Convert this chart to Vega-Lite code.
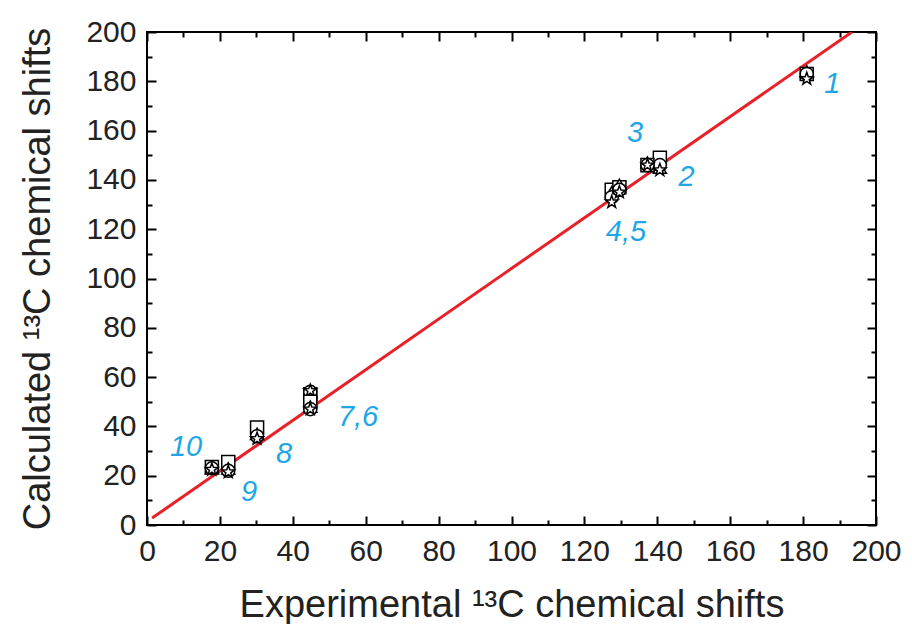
{
  "$schema": "https://vega.github.io/schema/vega-lite/v6.json",
  "width": 729,
  "height": 493,
  "autosize": "none",
  "padding": {"left": 147, "top": 32, "right": 36, "bottom": 99},
  "background": "white",
  "config": {
    "view": {"stroke": "black", "strokeWidth": 2},
    "font": "Liberation Sans",
    "axis": {"grid": false, "domain": false, "tickColor": "black", "tickWidth": 2, "labelColor": "#222", "titleColor": "#222", "labelFont": "Liberation Sans", "titleFont": "Liberation Sans", "titleFontWeight": "normal", "labelFontSize": 30, "titleFontSize": 38, "labelOverlap": false, "labelFlush": false}
  },
  "datasets": {
    "pts": [
      {"carbon": 1, "exp": 181, "method": "A", "calc": 183},
      {"carbon": 1, "exp": 181, "method": "B", "calc": 184},
      {"carbon": 1, "exp": 181, "method": "C", "calc": 183},
      {"carbon": 1, "exp": 181, "method": "D", "calc": 181},
      {"carbon": 2, "exp": 140.7, "method": "A", "calc": 149},
      {"carbon": 2, "exp": 140.7, "method": "B", "calc": 145},
      {"carbon": 2, "exp": 140.7, "method": "C", "calc": 146},
      {"carbon": 2, "exp": 140.7, "method": "D", "calc": 144},
      {"carbon": 3, "exp": 137.3, "method": "A", "calc": 146},
      {"carbon": 3, "exp": 137.3, "method": "B", "calc": 147},
      {"carbon": 3, "exp": 137.3, "method": "C", "calc": 146},
      {"carbon": 3, "exp": 137.3, "method": "D", "calc": 146},
      {"carbon": 4, "exp": 127.5, "method": "A", "calc": 136},
      {"carbon": 4, "exp": 127.5, "method": "B", "calc": 135},
      {"carbon": 4, "exp": 127.5, "method": "C", "calc": 133},
      {"carbon": 4, "exp": 127.5, "method": "D", "calc": 131},
      {"carbon": 5, "exp": 129.6, "method": "A", "calc": 137},
      {"carbon": 5, "exp": 129.6, "method": "B", "calc": 138},
      {"carbon": 5, "exp": 129.6, "method": "C", "calc": 136},
      {"carbon": 5, "exp": 129.6, "method": "D", "calc": 135},
      {"carbon": 6, "exp": 44.8, "method": "A", "calc": 53},
      {"carbon": 6, "exp": 44.8, "method": "B", "calc": 54},
      {"carbon": 6, "exp": 44.8, "method": "C", "calc": 54},
      {"carbon": 6, "exp": 44.8, "method": "D", "calc": 54.5},
      {"carbon": 7, "exp": 44.8, "method": "A", "calc": 50},
      {"carbon": 7, "exp": 44.8, "method": "B", "calc": 48},
      {"carbon": 7, "exp": 44.8, "method": "C", "calc": 47},
      {"carbon": 7, "exp": 44.8, "method": "D", "calc": 47},
      {"carbon": 8, "exp": 30.2, "method": "A", "calc": 39.5},
      {"carbon": 8, "exp": 30.2, "method": "B", "calc": 37},
      {"carbon": 8, "exp": 30.2, "method": "C", "calc": 36},
      {"carbon": 8, "exp": 30.2, "method": "D", "calc": 35},
      {"carbon": 9, "exp": 22.3, "method": "A", "calc": 25.5},
      {"carbon": 9, "exp": 22.3, "method": "B", "calc": 23},
      {"carbon": 9, "exp": 22.3, "method": "C", "calc": 22},
      {"carbon": 9, "exp": 22.3, "method": "D", "calc": 21.5},
      {"carbon": 10, "exp": 17.8, "method": "A", "calc": 23.5},
      {"carbon": 10, "exp": 17.8, "method": "B", "calc": 23},
      {"carbon": 10, "exp": 17.8, "method": "C", "calc": 23},
      {"carbon": 10, "exp": 17.8, "method": "D", "calc": 22.5}
    ],
    "fit": [
      {"exp": 1.4, "calc": 2.8},
      {"exp": 193.4, "calc": 200}
    ],
    "labels": [
      {"text": "1", "exp": 188, "calc": 179},
      {"text": "3", "exp": 133.9, "calc": 159},
      {"text": "2", "exp": 148, "calc": 141},
      {"text": "4,5", "exp": 131.4, "calc": 119},
      {"text": "7,6", "exp": 57.9, "calc": 44},
      {"text": "8", "exp": 37.6, "calc": 29},
      {"text": "10", "exp": 10.7, "calc": 31.6},
      {"text": "9", "exp": 28, "calc": 13.4}
    ]
  },
  "resolve": {"axis": {"x": "independent", "y": "independent"}},
  "layer": [
    {
      "data": {"name": "fit"},
      "mark": {"type": "line", "color": "#e8202a", "strokeWidth": 3, "clip": true},
      "encoding": {
        "x": {"field": "exp", "type": "quantitative", "scale": {"domain": [0, 200], "nice": false, "zero": false},
          "axis": {"orient": "top", "values": [0,10,20,30,40,50,60,70,80,90,100,110,120,130,140,150,160,170,180,190,200], "labels": false, "title": null,
            "tickSize": {"condition": {"test": "datum.value % 20 === 0", "value": -9}, "value": -5}}},
        "y": {"field": "calc", "type": "quantitative", "scale": {"domain": [0, 200], "nice": false, "zero": false},
          "axis": {"orient": "right", "values": [0,10,20,30,40,50,60,70,80,90,100,110,120,130,140,150,160,170,180,190,200], "labels": false, "title": null,
            "tickSize": {"condition": {"test": "datum.value % 20 === 0", "value": -9}, "value": -5}}}
      }
    },
    {
      "data": {"name": "pts"},
      "mark": {"type": "point", "filled": false, "fill": "white", "fillOpacity": 1, "stroke": "black", "strokeWidth": 1.5, "size": 170, "opacity": 1},
      "encoding": {
        "x": {"field": "exp", "type": "quantitative",
          "axis": {"orient": "bottom", "values": [0,10,20,30,40,50,60,70,80,90,100,110,120,130,140,150,160,170,180,190,200],
            "labelExpr": "datum.value % 20 === 0 ? datum.label : ''", "labelPadding": 20,
            "tickSize": {"condition": {"test": "datum.value % 20 === 0", "value": -9}, "value": -5},
            "title": "Experimental ¹³C chemical shifts", "titlePadding": 16}},
        "y": {"field": "calc", "type": "quantitative",
          "axis": {"orient": "left", "values": [0,10,20,30,40,50,60,70,80,90,100,110,120,130,140,150,160,170,180,190,200],
            "labelExpr": "datum.value % 20 === 0 ? datum.label : ''", "labelPadding": 20,
            "tickSize": {"condition": {"test": "datum.value % 20 === 0", "value": -9}, "value": -5},
            "title": "Calculated ¹³C chemical shifts", "titlePadding": 28}},
        "shape": {"field": "method", "type": "nominal", "scale": {"domain": ["A", "B", "C", "D"], "range": ["square", "triangle-up", "circle", "M0,-1L0.24,-0.33L0.95,-0.31L0.38,0.12L0.59,0.81L0,0.4L-0.59,0.81L-0.38,0.12L-0.95,-0.31L-0.24,-0.33Z"]}, "legend": null}
      }
    },
    {
      "data": {"name": "labels"},
      "mark": {"type": "text", "color": "#1ea6e6", "fontSize": 29, "fontStyle": "italic", "font": "Liberation Sans", "align": "center", "baseline": "middle"},
      "encoding": {
        "x": {"field": "exp", "type": "quantitative", "axis": null},
        "y": {"field": "calc", "type": "quantitative", "axis": null},
        "text": {"field": "text"}
      }
    }
  ]
}
